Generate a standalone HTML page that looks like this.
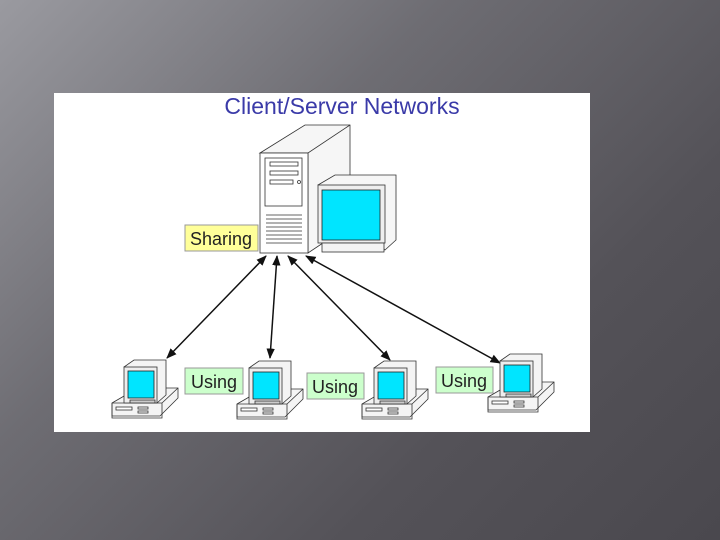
<!DOCTYPE html>
<html><head><style>
body{margin:0;width:720px;height:540px;overflow:hidden;background:linear-gradient(135deg,#9a9aa0 0%,#6e6d73 35%,#545258 70%,#4a484e 100%);font-family:"Liberation Sans",sans-serif}
</style></head><body>
<svg width="720" height="540" style="position:absolute;left:0;top:0">
<defs>
<marker id="a" viewBox="0 0 10 10" refX="9" refY="5" markerWidth="7" markerHeight="7" orient="auto-start-reverse"><path d="M0,1 L10,5 L0,9 z" fill="#111"/></marker>
<g id="ws" stroke="#333" stroke-width="0.8" fill="#fff">
<path d="M12,53 L38,38 L78,38 L78,48 L60,66 L12,66 z" fill="#f4f4f4"/>
<path d="M12,53 L62,53 L78,38 M62,53 L62,68 L12,68 L12,53" fill="none"/>
<rect x="16" y="57" width="16" height="3"/><rect x="38" y="57" width="10" height="2"/><rect x="38" y="61" width="10" height="2"/>
<path d="M24,17 L34,10 L66,10 L66,45 L57,53 Z" fill="#f4f4f4"/>
<rect x="24" y="17" width="33" height="36" fill="#eee"/>
<rect x="28" y="21" width="26" height="27" fill="#00e5ff" stroke="#222"/>
<rect x="30" y="50" width="25" height="3" fill="#ccc"/>
</g>
</defs>
<rect x="54" y="93" width="536" height="339" fill="#fff"/>
<text x="342" y="114" font-size="23" fill="#3a3aa8" text-anchor="middle">Client/Server Networks</text>
<g stroke="#333" stroke-width="0.8" fill="#fff">
<path d="M260,153 L305,125 L350,125 L350,225 L308,253 L308,153 Z" fill="#f6f6f6"/>
<path d="M260,153 L308,153 L350,125" fill="none"/>
<rect x="260" y="153" width="48" height="100"/>
<rect x="265" y="158" width="37" height="48"/>
<rect x="270" y="162" width="28" height="4"/><rect x="270" y="171" width="28" height="4"/><rect x="270" y="180" width="23" height="4"/>
<circle cx="299" cy="182" r="1.5"/>
<path d="M266,215 H302 M266,219 H302 M266,223 H302 M266,227 H302 M266,231 H302 M266,235 H302 M266,239 H302 M266,243 H302" />
<path d="M318,185 L335,175 L396,175 L396,240 L385,250 Z" fill="#f6f6f6"/>
<rect x="318" y="185" width="67" height="58" fill="#eee"/>
<rect x="322" y="190" width="58" height="50" fill="#00e5ff" stroke="#222"/>
<rect x="322" y="243" width="62" height="9" fill="#f4f4f4"/>
</g>
<rect x="185" y="225" width="73" height="26" fill="#ffff99" stroke="#999"/>
<text x="221" y="245" font-size="18" text-anchor="middle" fill="#222">Sharing</text>
<g stroke="#111" stroke-width="1.5" marker-start="url(#a)" marker-end="url(#a)">
<line x1="266" y1="256" x2="167" y2="358"/>
<line x1="277" y1="256" x2="270" y2="358"/>
<line x1="288" y1="256" x2="390" y2="360"/>
<line x1="306" y1="256" x2="500" y2="363"/>
</g>
<use href="#ws" x="100" y="350"/>
<use href="#ws" x="225" y="351"/>
<use href="#ws" x="350" y="351"/>
<use href="#ws" x="476" y="344"/>
<g fill="#ccffcc" stroke="#999">
<rect x="185" y="368" width="58" height="26"/>
<rect x="307" y="373" width="57" height="26"/>
<rect x="436" y="367" width="57" height="26"/>
</g>
<g font-size="18" fill="#222" text-anchor="middle">
<text x="214" y="388">Using</text><text x="335" y="393">Using</text><text x="464" y="387">Using</text>
</g>
</svg>
</body></html>
